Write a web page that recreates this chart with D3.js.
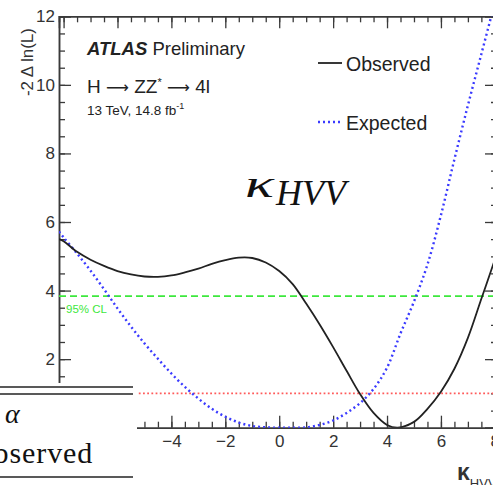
<!DOCTYPE html>
<html>
<head>
<meta charset="utf-8">
<script src="https://cdn.jsdelivr.net/npm/d3@7"></script>
<style>
  html, body { margin: 0; padding: 0; background: #fff; }
  svg { display: block; }
</style>
</head>
<body>
<svg id="chart" width="493" height="485"></svg>
<script>
// Likelihood scan of the HVV coupling modifier
const kappaObs = [-8.17, -8.0, -7.5, -7.0, -6.5, -6.0, -5.5, -5.0, -4.5, -4.0, -3.5, -3.0, -2.5, -2.0, -1.5, -1.0, -0.5, 0.0, 0.5, 1.0, 1.5, 2.0, 2.5, 3.0, 3.5, 4.0, 4.4, 5.0, 5.5, 6.0, 6.5, 7.0, 7.5, 8.0, 8.1];
const nllObs   = [5.50, 5.44, 5.13, 4.90, 4.72, 4.57, 4.47, 4.41, 4.40, 4.44, 4.53, 4.64, 4.78, 4.89, 4.96, 4.95, 4.82, 4.57, 4.19, 3.62, 3.01, 2.35, 1.66, 0.98, 0.43, 0.08, 0.0, 0.17, 0.55, 1.05, 1.72, 2.62, 3.76, 4.90, 5.15];

const kappaExp = [-8.17, -8.0, -7.5, -7.0, -6.5, -6.0, -5.5, -5.0, -4.5, -4.0, -3.5, -3.0, -2.5, -2.0, -1.5, -1.0, -0.5, 0.0, 0.5, 1.0, 1.5, 2.0, 2.5, 3.0, 3.5, 4.0, 4.5, 5.0, 5.5, 6.0, 6.5, 7.0, 7.5, 8.0];
const nllExp   = [5.72, 5.55, 5.08, 4.58, 4.04, 3.48, 2.95, 2.46, 2.01, 1.58, 1.19, 0.85, 0.55, 0.32, 0.15, 0.05, 0.01, 0.0, 0.0, 0.01, 0.08, 0.21, 0.43, 0.72, 1.13, 1.75, 2.75, 3.68, 4.76, 6.20, 7.83, 9.40, 10.90, 12.40];

const xMajorTicks = [-8, -6, -4, -2, 0, 2, 4, 6, 8];
const xTickLabels = [-4, -2, 0, 2, 4, 6, 8];
const yMajorTicks = [0, 2, 4, 6, 8, 10, 12];
const yTickLabels = [2, 4, 6, 8, 10, 12];
const clLevels = [1, 3.84];

const svg = d3.select("#chart");
const frameL = 59, frameR = 497, frameT = 16.3, frameB = 427.7;

const x = d3.scaleLinear().domain([-8.17, 8.08]).range([frameL, frameR]);
const y = d3.scaleLinear().domain([0, 12]).range([frameB, frameT]);

const xMinor = d3.range(-8, 8.01, 0.5);
const yMinor = d3.range(0, 12.01, 0.5);

svg.append("defs").append("clipPath").attr("id", "plotArea")
  .append("rect").attr("x", frameL).attr("y", frameT)
  .attr("width", frameR - frameL).attr("height", frameB - frameT);

const axisColor = "#3a3a3a";
const labelFont = "'Liberation Sans', Arial, Helvetica, sans-serif";
const serifFont = "'Liberation Serif', 'Times New Roman', serif";

function styleAxis(g) {
  g.select(".domain").attr("stroke", axisColor).attr("stroke-width", 1.5);
  g.selectAll(".tick line").attr("stroke", axisColor).attr("stroke-width", 1.3);
  g.selectAll(".tick text").attr("fill", "#333")
    .attr("font-family", labelFont).attr("font-size", 17);
}

// bottom axis, ticks pointing inward
const fmt = d => d < 0 ? "\u2212" + Math.abs(d) : String(d);
svg.append("g").attr("transform", `translate(0,${frameB})`)
  .call(d3.axisBottom(x).tickValues(xMinor).tickSize(-6).tickFormat(""))
  .call(styleAxis);
svg.append("g").attr("transform", `translate(0,${frameB})`)
  .call(d3.axisBottom(x).tickValues(xMajorTicks).tickSize(-12).tickFormat(""))
  .call(styleAxis);
svg.append("g").attr("transform", `translate(0,${frameB})`)
  .call(d3.axisBottom(x).tickValues(xTickLabels).tickSize(0).tickPadding(7).tickFormat(fmt))
  .call(styleAxis)
  .call(g => g.select(".domain").remove());

// top axis
svg.append("g").attr("transform", `translate(0,${frameT})`)
  .call(d3.axisTop(x).tickValues(xMinor).tickSize(-6).tickFormat(""))
  .call(styleAxis);
svg.append("g").attr("transform", `translate(0,${frameT})`)
  .call(d3.axisTop(x).tickValues(xMajorTicks).tickSize(-12).tickFormat(""))
  .call(styleAxis);

// left axis
svg.append("g").attr("transform", `translate(${frameL},0)`)
  .call(d3.axisLeft(y).tickValues(yMinor).tickSize(-6).tickFormat(""))
  .call(styleAxis);
svg.append("g").attr("transform", `translate(${frameL},0)`)
  .call(d3.axisLeft(y).tickValues(yMajorTicks).tickSize(-12).tickFormat(""))
  .call(styleAxis);
svg.append("g").attr("transform", `translate(${frameL},0)`)
  .call(d3.axisLeft(y).tickValues(yTickLabels).tickSize(0).tickPadding(4).tickFormat(d3.format("d")))
  .call(styleAxis)
  .call(g => g.select(".domain").remove());

// right axis
svg.append("g").attr("transform", `translate(${frameR},0)`)
  .call(d3.axisRight(y).tickValues(yMinor).tickSize(-6).tickFormat(""))
  .call(styleAxis);
svg.append("g").attr("transform", `translate(${frameR},0)`)
  .call(d3.axisRight(y).tickValues(yMajorTicks).tickSize(-12).tickFormat(""))
  .call(styleAxis);

// axis titles
svg.append("text")
  .attr("transform", `translate(33,28) rotate(-90)`)
  .attr("text-anchor", "end")
  .attr("font-family", labelFont).attr("font-size", 17).attr("fill", "#333")
  .text("-2 \u0394 ln(L)");

const xt = svg.append("text").attr("x", 457).attr("y", 480)
  .attr("font-family", labelFont).attr("fill", "#333");
xt.append("tspan").attr("font-size", 23).attr("font-weight", "bold").text("\u03ba");
xt.append("tspan").attr("font-size", 13).attr("dy", 8).text("HVV");

const plot = svg.append("g").attr("clip-path", "url(#plotArea)");

// confidence-level reference lines
plot.append("line")
  .attr("x1", frameL).attr("x2", frameR)
  .attr("y1", y(clLevels[1])).attr("y2", y(clLevels[1]))
  .attr("stroke", "#3de83d").attr("stroke-width", 1.8)
  .attr("stroke-dasharray", "7,4");
plot.append("line")
  .attr("x1", frameL).attr("x2", frameR)
  .attr("y1", y(clLevels[0])).attr("y2", y(clLevels[0]))
  .attr("stroke", "#ff5a5a").attr("stroke-width", 1.8)
  .attr("stroke-dasharray", "1.8,2.4");

svg.append("text").attr("x", 66).attr("y", 313)
  .attr("font-family", labelFont).attr("font-size", 11.5).attr("fill", "#3de83d")
  .text("95% CL");

const line = d3.line().curve(d3.curveCatmullRom.alpha(0.5))
  .x(d => x(d[0])).y(d => y(d[1]));

plot.append("path")
  .datum(d3.zip(kappaExp, nllExp))
  .attr("d", line).attr("fill", "none")
  .attr("stroke", "#3a3aff").attr("stroke-width", 2.4)
  .attr("stroke-dasharray", "2,3");

plot.append("path")
  .datum(d3.zip(kappaObs, nllObs))
  .attr("d", line).attr("fill", "none")
  .attr("stroke", "#222").attr("stroke-width", 1.8);

// labels inside the frame
const t1 = svg.append("text").attr("x", 87).attr("y", 55)
  .attr("font-family", labelFont).attr("font-size", 18.5).attr("fill", "#222");
t1.append("tspan").attr("font-weight", "bold").attr("font-style", "italic").text("ATLAS");
t1.append("tspan").text(" Preliminary");

const arrowFont = "'DejaVu Sans', sans-serif";
const t2 = svg.append("text").attr("x", 87).attr("y", 93)
  .attr("font-family", labelFont).attr("font-size", 19).attr("fill", "#222");
t2.append("tspan").text("H ");
t2.append("tspan").attr("font-family", arrowFont).attr("font-size", 16).text("\u27f6");
t2.append("tspan").text(" ZZ");
t2.append("tspan").attr("font-size", 11).attr("dy", -7).text("*");
t2.append("tspan").attr("dy", 7).text(" ");
t2.append("tspan").attr("font-family", arrowFont).attr("font-size", 16).text("\u27f6");
t2.append("tspan").text(" 4l");

const t3 = svg.append("text").attr("x", 87).attr("y", 115)
  .attr("font-family", labelFont).attr("font-size", 13.5).attr("fill", "#222");
t3.append("tspan").text("13 TeV, 14.8 fb");
t3.append("tspan").attr("font-size", 9).attr("dy", -6).text("-1");

// legend
const legend = [
  { label: "Observed", y: 63, color: "#222", dash: null, width: 1.8 },
  { label: "Expected", y: 122, color: "#3a3aff", dash: "2,3", width: 2.4 }
];
legend.forEach(l => {
  svg.append("line").attr("x1", 318).attr("x2", 342).attr("y1", l.y).attr("y2", l.y)
    .attr("stroke", l.color).attr("stroke-width", l.width)
    .attr("stroke-dasharray", l.dash);
  svg.append("text").attr("x", 346).attr("y", l.y + 7.5)
    .attr("font-family", labelFont).attr("font-size", 19.5).attr("fill", "#222")
    .text(l.label);
});

// coupling symbol
svg.append("text").attr("x", 245).attr("y", 197)
  .attr("font-family", serifFont)
  .attr("font-style", "italic").attr("font-size", 38).attr("fill", "#111")
  .attr("textLength", 29).attr("lengthAdjust", "spacingAndGlyphs")
  .text("\u03ba");
svg.append("text").attr("x", 276).attr("y", 205)
  .attr("font-family", serifFont)
  .attr("font-style", "italic").attr("font-size", 36).attr("fill", "#111")
  .text("HVV");

// table fragment over the lower-left corner
const tbl = svg.append("g");
tbl.append("rect").attr("x", 0).attr("y", 383).attr("width", 137).attr("height", 102).attr("fill", "#fff");
[387, 394, 477].forEach(yy => {
  tbl.append("line").attr("x1", 0).attr("x2", 133).attr("y1", yy).attr("y2", yy)
    .attr("stroke", "#222").attr("stroke-width", 1.3);
});
tbl.append("text").attr("x", 5).attr("y", 423)
  .attr("font-family", serifFont)
  .attr("font-style", "italic").attr("font-size", 28).attr("fill", "#111")
  .text("\u03b1");
tbl.append("text").attr("x", -29).attr("y", 463)
  .attr("font-family", serifFont)
  .attr("font-size", 30).attr("letter-spacing", 0.9).attr("fill", "#111")
  .text("Observed");
</script>
</body>
</html>
